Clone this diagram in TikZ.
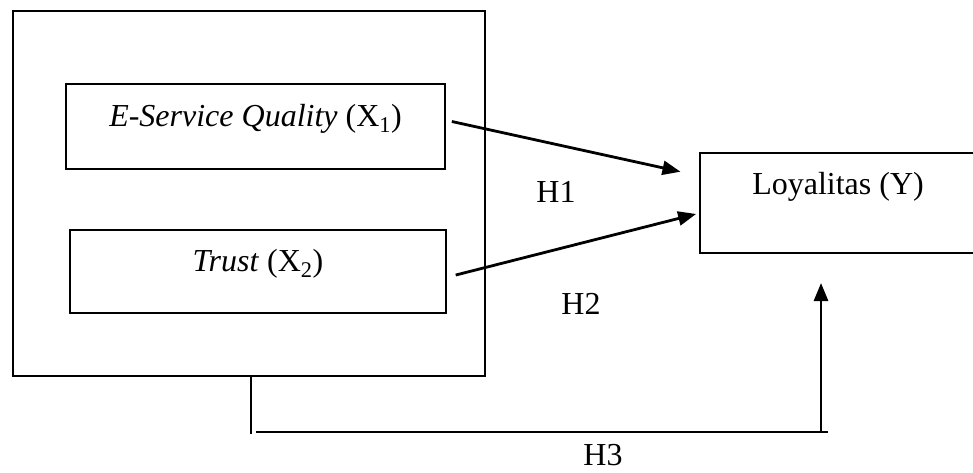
\documentclass[tikz,border=0pt]{standalone}
\usepackage{fontspec}
\setmainfont{Liberation Serif}
\usetikzlibrary{arrows.meta,positioning,calc}
\tikzstyle{block} =[rectangle, draw, line width=2pt,
                    inner sep=0pt, outer sep=0pt,
                    text height=22pt, text depth=22pt]
\tikzstyle{edge}  =[line width=2.8pt,
                    -{Triangle[length=18pt,width=14pt]}]
\tikzstyle{link}  =[line width=2.2pt]
\tikzstyle{hlabel}=[inner sep=0pt]

\begin{document}
\begin{tikzpicture}[x=1pt, y=-1pt, font=\fontsize{32}{38}\selectfont]
    \useasboundingbox (0,0) rectangle (973,472);

    \node[block, minimum width=472pt, minimum height=365pt] (outer) at (249,193.5) {};
    \node[block, minimum width=379pt, minimum height=85pt] (esq) at (255.5,126.5)
        {\textit{E-Service Quality} (X\textsubscript{1})};
    \node[block, minimum width=376pt, minimum height=83pt] (trust) at (258,271.5)
        {\textit{Trust} (X\textsubscript{2})};
    \node[block, minimum width=276pt, minimum height=100pt, text depth=40pt] (loyal) at (838,203)
        {Loyalitas (Y)};

    \node[hlabel] (h1) at (556,192) {H1};
    \node[hlabel] (h2) at (581,304) {H2};
    \node[hlabel] (h3) at (603,455) {H3};

    \draw[edge, shorten <=7pt, shorten >=20pt] ([yshift=6.5pt]esq.east) -- ([yshift=27pt]loyal.west);
    \draw[edge, shorten <=10pt, shorten >=4pt] ([yshift=-6pt]trust.east) -- ([yshift=-10pt]loyal.west);

    % simultaneous path H3
    \draw[link, line width=2.8pt] ([xshift=2pt]outer.south) -- ++(0,58) coordinate (stub);
    \coordinate (h3l) at (256,432);
    \coordinate (h3r) at (828,432);
    \coordinate (h3up) at (821,432);
    \draw[link] (h3l) -- (h3r);
    \draw[edge, shorten >=30pt] (h3up) -- (h3up |- loyal.south);
\end{tikzpicture}
\end{document}
